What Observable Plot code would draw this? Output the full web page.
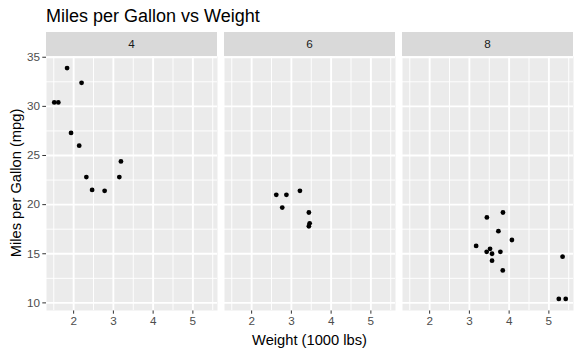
<!DOCTYPE html>
<html>
<head>
<meta charset="utf-8">
<script src="https://cdn.jsdelivr.net/npm/d3@7"></script>
<script src="https://cdn.jsdelivr.net/npm/@observablehq/plot@0.6"></script>
<style>
  body { margin: 0; background: white; }
  #chart svg text { fill: #4D4D4D; }
</style>
</head>
<body>
<div id="chart"></div>
<script>
// mtcars: weight (1000 lbs), miles per gallon, cylinders
const wt  = [2.620, 2.875, 2.320, 3.215, 3.440, 3.460, 3.570, 3.190, 3.150, 3.440, 3.440, 4.070, 3.730, 3.780, 5.250, 5.424, 5.345, 2.200, 1.615, 1.835, 2.465, 3.520, 3.435, 3.840, 3.845, 1.935, 2.140, 1.513, 3.170, 2.770, 3.570, 2.780];
const mpg = [21.0, 21.0, 22.8, 21.4, 18.7, 18.1, 14.3, 24.4, 22.8, 19.2, 17.8, 16.4, 17.3, 15.2, 10.4, 10.4, 14.7, 32.4, 30.4, 33.9, 21.5, 15.5, 15.2, 13.3, 19.2, 27.3, 26.0, 30.4, 15.8, 19.7, 15.0, 21.4];
const cyl = [6, 6, 4, 6, 8, 6, 8, 4, 4, 6, 6, 8, 8, 8, 8, 8, 8, 4, 4, 4, 4, 8, 8, 8, 8, 4, 4, 4, 8, 6, 8, 4];
const facetLabels = ["4", "6", "8"];
const xTicks = [2, 3, 4, 5];
const xMinor = [1.5, 2.5, 3.5, 4.5, 5.5];
const yTicks = [10, 15, 20, 25, 30, 35];
const yMinor = [12.5, 17.5, 22.5, 27.5, 32.5];
const titleText = "Miles per Gallon vs Weight";
const xTitle = "Weight (1000 lbs)";
const yTitle = "Miles per Gallon (mpg)";

const cars = wt.map((w, i) => ({wt: w, mpg: mpg[i], cyl: cyl[i]}));

const W = 581, H = 355;
const mL = 46, mR = 8, mT = 56, mB = 45;
const pad = 7 / 178;

const xr = d3.extent(wt), yr = d3.extent(mpg);
const xe = (xr[1] - xr[0]) * 0.05, ye = (yr[1] - yr[0]) * 0.05;

const plot = Plot.plot({
  width: W, height: H,
  marginTop: mT, marginBottom: mB, marginLeft: mL, marginRight: mR,
  style: {fontFamily: "'Liberation Sans', Arial, sans-serif", fontSize: "11.7px", background: "white", color: "#333333"},
  facet: {data: cars, x: "cyl", label: null},
  fx: {padding: pad, axis: null, domain: [4, 6, 8]},
  x: {domain: [xr[0] - xe, xr[1] + xe], ticks: xTicks, tickFormat: d3.format("d"), tickSize: 3.7, tickPadding: 2.9, label: null},
  y: {domain: [yr[0] - ye, yr[1] + ye], ticks: yTicks, tickFormat: d3.format("d"), tickSize: 3.7, tickPadding: 2.9, label: null},
  marks: [
    Plot.frame({fill: "#EBEBEB", stroke: "none"}),
    Plot.ruleX(xMinor, {stroke: "white", strokeWidth: 0.95, strokeOpacity: 1}),
    Plot.ruleY(yMinor, {stroke: "white", strokeWidth: 0.95, strokeOpacity: 1}),
    Plot.ruleX(xTicks, {stroke: "white", strokeWidth: 1.9, strokeOpacity: 1}),
    Plot.ruleY(yTicks, {stroke: "white", strokeWidth: 1.9, strokeOpacity: 1}),
    Plot.dot(cars, {x: "wt", y: "mpg", r: 2.4, fill: "black", stroke: "none"})
  ]
});

document.getElementById("chart").appendChild(plot);

const svg = d3.select(plot);
svg.selectAll("line").filter(function() {
  return !this.closest("[aria-label^='rule']");
}).attr("stroke-width", 1.1);

// facet strips
let fxs;
try { fxs = plot.scale("fx"); } catch (e) { fxs = null; }
const dom = [4, 6, 8];
const step = (W - mL - mR) / (dom.length - pad);
const bw = step * (1 - pad);
const stripG = svg.append("g");
dom.forEach((d, i) => {
  let x0 = mL + i * step, w = bw;
  if (fxs && fxs.apply) { x0 = fxs.apply(d); w = fxs.bandwidth; }
  stripG.append("rect").attr("x", x0).attr("y", 32).attr("width", w).attr("height", mT - 32).attr("fill", "#D9D9D9");
  stripG.append("text").attr("x", x0 + w / 2).attr("y", 48).attr("text-anchor", "middle")
    .attr("style", "fill:#1A1A1A;font-size:11.7px").text(facetLabels[i]);
});

// titles
svg.append("text").attr("x", mL).attr("y", 22).attr("text-anchor", "start")
  .attr("style", "fill:#000;font-size:18px").text(titleText);
svg.append("text").attr("x", (mL + W - mR) / 2).attr("y", 345).attr("text-anchor", "middle")
  .attr("style", "fill:#000;font-size:14.7px").text(xTitle);
svg.append("text").attr("transform", `translate(20.5,${(mT + H - mB) / 2}) rotate(-90)`).attr("text-anchor", "middle")
  .attr("style", "fill:#000;font-size:14.7px").text(yTitle);
</script>
</body>
</html>
